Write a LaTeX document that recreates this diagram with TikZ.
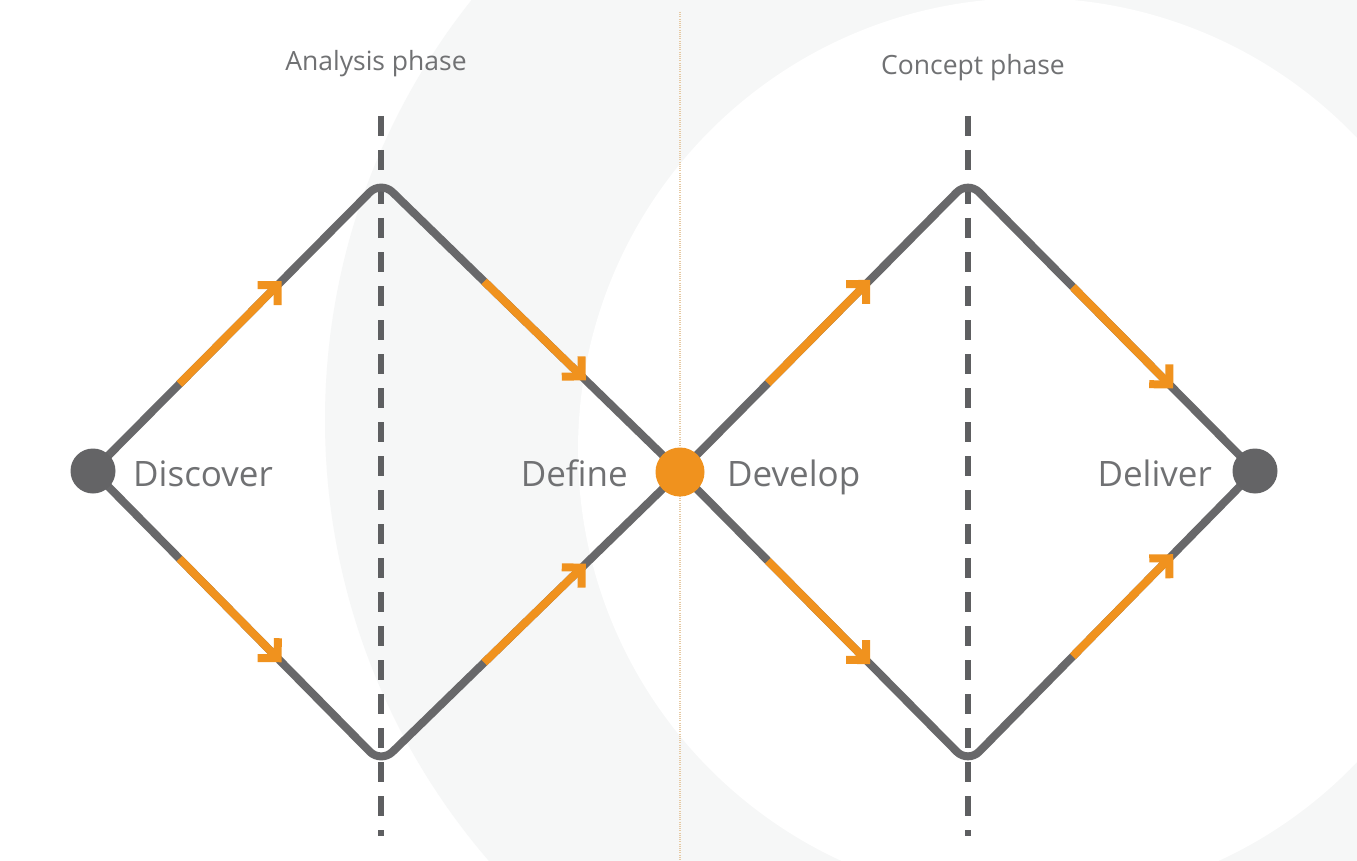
\documentclass[tikz,border=0pt]{standalone}
\usepackage{fontspec}
\setmainfont{Open Sans}
\usetikzlibrary{arrows.meta,calc}
\definecolor{linegrey}{HTML}{68686A}
\definecolor{dotgrey}{HTML}{646466}
\definecolor{dashgrey}{HTML}{5E5F61}
\definecolor{accent}{HTML}{F0921E}
\definecolor{textgrey}{HTML}{707173}
\definecolor{bgpanel}{HTML}{F6F7F7}
\definecolor{divider}{HTML}{E6C9A2}
\tikzset{
  flow/.style={draw=linegrey, line width=8pt, rounded corners=16pt, line join=round},
  stage/.style={draw=accent, line width=8pt, -{Straight Barb[angle=90:20pt, line width=8pt]}},
  phaseaxis/.style={draw=dashgrey, line width=6pt, dash pattern=on 20pt off 14pt},
  greydot/.style={circle, fill=dotgrey, minimum size=45pt, inner sep=0pt},
  accentdot/.style={circle, fill=accent, minimum size=49pt, inner sep=0pt},
  steplabel/.style={text=textgrey, font=\fontsize{35}{38}\selectfont, inner sep=0pt},
  phaselabel/.style={text=textgrey, font=\fontsize{26.5}{30}\selectfont, inner sep=0pt}
}
\begin{document}
\begin{tikzpicture}[x=1pt,y=-1pt]
\useasboundingbox (0,0) rectangle (1357,861);
% background
\fill[white] (0,0) rectangle (1357,861);
\begin{scope}
  \clip (0,0) rectangle (1357,861);
  \fill[bgpanel] (1000,420) circle (675);
  \fill[white] (1030,450) circle (452);
\end{scope}
% divider
\coordinate (divtop) at (680,12);
\coordinate (divbot) at (680,861);
\draw[divider, line width=1.2pt, dash pattern=on 1pt off 1.2pt] (divtop) -- (divbot);
% phase axes
\coordinate (axAtop) at (381,116);
\coordinate (axAbot) at (381,836);
\coordinate (axBtop) at (968,116);
\coordinate (axBbot) at (968,836);
\draw[phaseaxis] (axAtop) -- (axAbot);
\draw[phaseaxis] (axBtop) -- (axBbot);
% diamond vertices
\coordinate (L) at (93,471);
\coordinate (T1) at (381,181);
\coordinate (B1) at (381,763);
\coordinate (C) at (680,472);
\coordinate (T2) at (968,181);
\coordinate (B2) at (968,763);
\coordinate (R) at (1255,471);
% grey paths
\draw[flow] (L) -- (T1) -- (C);
\draw[flow] (L) -- (B1) -- (C);
\draw[flow] (C) -- (T2) -- (R);
\draw[flow] (C) -- (B2) -- (R);
% orange stage arrows
\draw[stage] ($(L)!0.30!(T1)$) -- ($(L)!0.655!(T1)$);
\draw[stage] ($(L)!0.30!(B1)$) -- ($(L)!0.655!(B1)$);
\draw[stage] ($(T1)!0.345!(C)$) -- ($(T1)!0.685!(C)$);
\draw[stage] ($(B1)!0.345!(C)$) -- ($(B1)!0.685!(C)$);
\draw[stage] ($(C)!0.305!(T2)$) -- ($(C)!0.66!(T2)$);
\draw[stage] ($(C)!0.305!(B2)$) -- ($(C)!0.66!(B2)$);
\draw[stage] ($(T2)!0.365!(R)$) -- ($(T2)!0.715!(R)$);
\draw[stage] ($(B2)!0.365!(R)$) -- ($(B2)!0.715!(R)$);
% dots
\node[greydot] (start) at (L) {};
\node[accentdot] (mid) at (C) {};
\node[greydot] (finish) at (R) {};
% labels
\node[steplabel, anchor=base west] (discover) at (133,486) {Discover};
\node[steplabel, anchor=base east] (define) at (628,486) {Define};
\node[steplabel, anchor=base west] (develop) at (727,486) {Develop};
\node[steplabel, anchor=base east] (deliver) at (1212,486) {Deliver};
\node[phaselabel, anchor=base] (analysis) at (376,71) {Analysis phase};
\node[phaselabel, anchor=base] (concept) at (973,75) {Concept phase};
\end{tikzpicture}
\end{document}
